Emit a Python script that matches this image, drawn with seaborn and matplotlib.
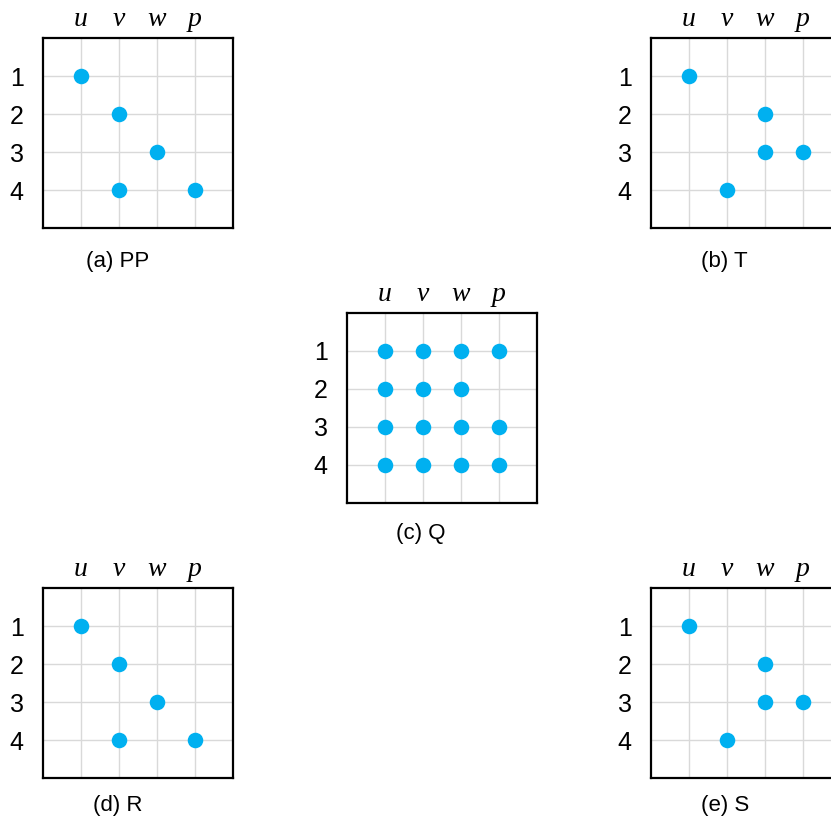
import matplotlib
matplotlib.use("Agg")
import matplotlib.pyplot as plt
import seaborn as sns
import pandas as pd

sns.set_style("white")
plt.rcParams['font.family'] = ['Liberation Sans', 'DejaVu Sans']
plt.rcParams['text.color'] = 'black'
plt.rcParams['xtick.color'] = 'black'
plt.rcParams['ytick.color'] = 'black'

# ---- data ----
col_labels = ['u', 'v', 'w', 'p']
row_labels = ['1', '2', '3', '4']

pp_cols = ['u', 'v', 'w', 'v', 'p']
pp_rows = [1, 2, 3, 4, 4]

t_cols = ['u', 'w', 'w', 'p', 'v']
t_rows = [1, 2, 3, 3, 4]

q_cols = ['u', 'v', 'w', 'p', 'u', 'v', 'w', 'u', 'v', 'w', 'p', 'u', 'v', 'w', 'p']
q_rows = [1, 1, 1, 1, 2, 2, 2, 3, 3, 3, 3, 4, 4, 4, 4]

r_cols = ['u', 'v', 'w', 'v', 'p']
r_rows = [1, 2, 3, 4, 4]

s_cols = ['u', 'w', 'w', 'p', 'v']
s_rows = [1, 2, 3, 3, 4]

captions = ['(a) PP', '(b) T', '(c) Q', '(d) R', '(e) S']

W, H = 831, 823
fig = plt.figure(figsize=(W / 100, H / 100), dpi=100)

# panel placement in pixels: (left, top), square size
SZ = 190
panels = [
    (pp_cols, pp_rows, 43, 38, 118, 261),
    (t_cols, t_rows, 651, 38, 724, 261),
    (q_cols, q_rows, 347, 313, 421, 534),
    (r_cols, r_rows, 43, 588, 118, 806),
    (s_cols, s_rows, 651, 588, 725, 806),
]

col_index = {c: i + 1 for i, c in enumerate(col_labels)}

for (cols, rows, left, top, cx, cy), cap in zip(panels, captions):
    ax = fig.add_axes([left / W, (H - top - SZ) / H, SZ / W, SZ / H])
    df = pd.DataFrame({'col': [col_index[c] for c in cols], 'row': rows})
    sns.scatterplot(data=df, x='col', y='row', ax=ax, s=125, color='#00B0F0',
                    linewidth=0, zorder=3, legend=False)
    ax.set_xlim(0, 5)
    ax.set_ylim(5, 0)
    ax.set_xticks([1, 2, 3, 4])
    ax.set_yticks([1, 2, 3, 4])
    ax.set_xticklabels(col_labels, family='Liberation Serif', style='italic',
                       fontsize=20, color='black')
    ax.set_yticklabels(row_labels, fontsize=18, color='black')
    ax.xaxis.tick_top()
    ax.tick_params(axis='x', length=0, pad=4)
    ax.tick_params(axis='y', length=0, pad=14)
    ax.grid(True, color='#d9d9d9', linewidth=1, zorder=0)
    ax.set_axisbelow(True)
    ax.set_xlabel('')
    ax.set_ylabel('')
    for sp in ax.spines.values():
        sp.set_visible(True)
        sp.set_color('black')
        sp.set_linewidth(1.6)
    fig.text(cx / W, 1 - cy / H, cap, ha='center', va='center', fontsize=16,
             color='black')

fig.savefig('out.png', dpi=100)
